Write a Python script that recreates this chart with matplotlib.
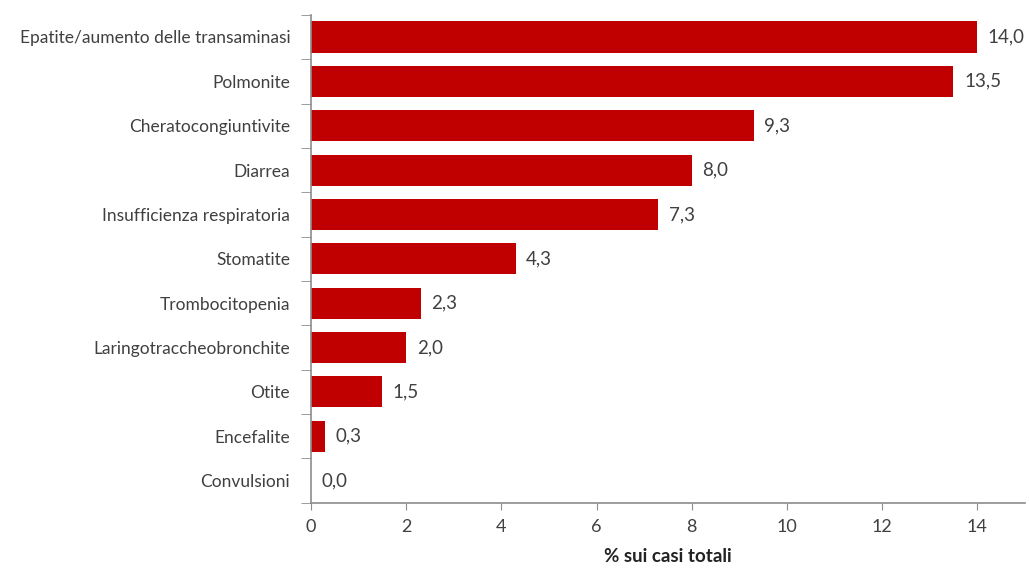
import matplotlib
matplotlib.use("Agg")
import matplotlib.pyplot as plt
import numpy as np

categories = ["Epatite/aumento delle transaminasi", "Polmonite", "Cheratocongiuntivite",
              "Diarrea", "Insufficienza respiratoria", "Stomatite", "Trombocitopenia",
              "Laringotraccheobronchite", "Otite", "Encefalite", "Convulsioni"]
values = [14.0, 13.5, 9.3, 8.0, 7.3, 4.3, 2.3, 2.0, 1.5, 0.3, 0.0]
xticks = [0, 2, 4, 6, 8, 10, 12, 14]
xlabel = "% sui casi totali"

plt.rcParams['font.family'] = ['Lato', 'DejaVu Sans']
txt = "#404040"
axc = "#8c8c8c"

fig = plt.figure(figsize=(10.3, 5.7), dpi=100)
ax = fig.add_axes([0.302, 0.118, 0.693, 0.856])

y = np.arange(len(categories))
ax.barh(y, values, height=0.7, color="#C00000", zorder=2)
for yi, v in zip(y, values):
    ax.text(v + 0.22, yi, f"{v:.1f}".replace(".", ","), va="center", ha="left",
            fontsize=13.5, color=txt)

ax.set_ylim(len(categories) - 0.5, -0.5)
ax.set_xlim(0, 15)
ax.set_yticks(y)
ax.set_yticklabels(categories, fontsize=12.5, color=txt)
ax.set_yticks(np.arange(len(categories) + 1) - 0.5, minor=True)
ax.tick_params(axis="y", which="major", length=0, pad=15)
ax.tick_params(axis="y", which="minor", length=7, color=axc, direction="out")
ax.set_xticks(xticks)
ax.set_xticklabels([str(t) for t in xticks], fontsize=13, color=txt)
ax.tick_params(axis="x", length=5, color=axc, direction="out", pad=7)
ax.set_xlabel(xlabel, fontsize=13.5, fontweight="bold", color="#222222", labelpad=9)

for s in ["top", "right"]:
    ax.spines[s].set_visible(False)
for s in ["left", "bottom"]:
    ax.spines[s].set_color(axc)
    ax.spines[s].set_linewidth(1.2)

fig.savefig("out.png", dpi=100)
